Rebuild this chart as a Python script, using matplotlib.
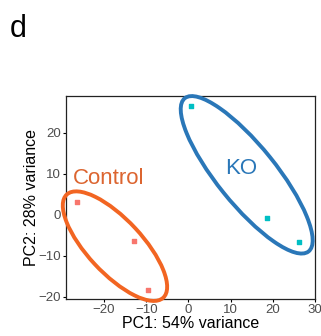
import matplotlib
matplotlib.use("Agg")
import matplotlib.pyplot as plt
from matplotlib.patches import Ellipse

plt.rcParams['font.family'] = ['Liberation Sans', 'DejaVu Sans']

# PCA scores
control_pc1 = [-26.5, -13.0, -9.5]
control_pc2 = [3.2, -6.3, -18.3]
ko_pc1 = [0.5, 18.6, 26.1]
ko_pc2 = [26.7, -0.7, -6.5]

# group ellipses: center, width, height, angle
groups = ["Control", "KO"]
ell_center = [(-17.4, -7.6), (13.8, 9.8)]
ell_width = [34.0, 47.5]
ell_height = [13.0, 14.0]
ell_angle = [-48, -52]
ell_color = ["#F26522", "#2A77B8"]
label_pos = [(-19.0, 9.0), (12.5, 11.3)]
label_color = ["#DC6530", "#2A77B8"]

fig = plt.figure(figsize=(3.21, 3.36), dpi=100)
ax = fig.add_axes([0.2056, 0.110, 0.776, 0.604])

ax.scatter(control_pc1, control_pc2, marker='s', s=10, color='#F8766D', zorder=3)
ax.scatter(ko_pc1, ko_pc2, marker='s', s=10, color='#00BFC4', zorder=3)

for i in range(len(groups)):
    e = Ellipse(ell_center[i], ell_width[i], ell_height[i], angle=ell_angle[i],
                fill=False, edgecolor=ell_color[i], linewidth=2.8, clip_on=False, zorder=4)
    ax.add_patch(e)
    ax.text(label_pos[i][0], label_pos[i][1], groups[i], color=label_color[i],
            fontsize=16, ha='center', va='center', zorder=5)

ax.set_xlim(-29, 28.8)
ax.set_ylim(-20.5, 29)
ax.set_xticks([-20, -10, 0, 10, 20, 30])
ax.set_yticks([-20, -10, 0, 10, 20])
ax.tick_params(direction='out', length=2, width=0.8, labelsize=9.5,
               labelcolor='#4D4D4D', pad=1.5)
for s in ax.spines.values():
    s.set_linewidth(0.9)
    s.set_color('#222222')

ax.set_xlabel("PC1: 54% variance", fontsize=11.5, labelpad=0)
ax.set_ylabel("PC2: 28% variance", fontsize=11.5, labelpad=0)

fig.text(0.03, 0.915, "d", fontsize=22, va='center', ha='left')

fig.savefig("out.png", dpi=100)
